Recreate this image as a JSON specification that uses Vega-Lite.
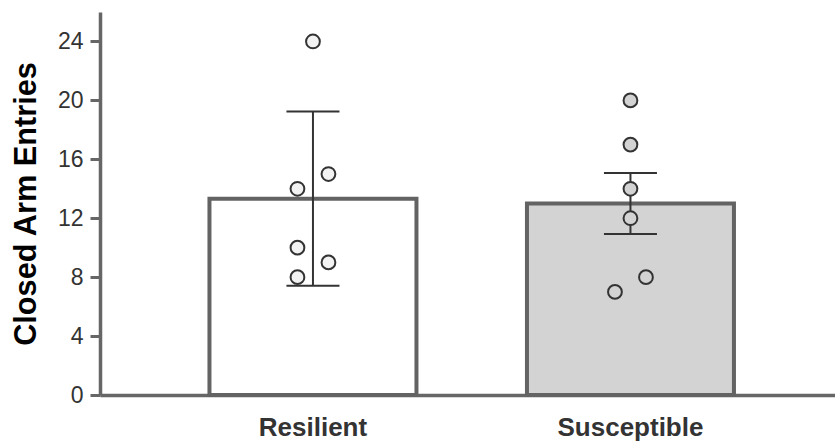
{
  "$schema": "https://vega.github.io/schema/vega-lite/v6.json",
  "width": 735,
  "height": 383,
  "autosize": {"type": "none"},
  "padding": {"left": 100, "top": 12, "right": 0, "bottom": 50},
  "background": "#ffffff",
  "config": {"view": {"stroke": null}, "font": "Liberation Sans"},
  "datasets": {
    "bars": [
      {"group": "Resilient", "mean": 13.33, "lo": 7.41, "hi": 19.25},
      {"group": "Susceptible", "mean": 13.0, "lo": 10.93, "hi": 15.07}
    ],
    "points": [
      {"group": "Resilient", "value": 24, "off": 0},
      {"group": "Resilient", "value": 15, "off": 1},
      {"group": "Resilient", "value": 14, "off": -1},
      {"group": "Resilient", "value": 10, "off": -1},
      {"group": "Resilient", "value": 9, "off": 1},
      {"group": "Resilient", "value": 8, "off": -1},
      {"group": "Susceptible", "value": 20, "off": 0},
      {"group": "Susceptible", "value": 17, "off": 0},
      {"group": "Susceptible", "value": 14, "off": 0},
      {"group": "Susceptible", "value": 12, "off": 0},
      {"group": "Susceptible", "value": 8, "off": 1},
      {"group": "Susceptible", "value": 7, "off": -1}
    ]
  },
  "encoding": {
    "x": {
      "field": "group",
      "type": "nominal",
      "scale": {"domain": ["Resilient", "Susceptible"], "paddingInner": 0.348, "paddingOuter": 0.3315, "align": 0.52},
      "axis": {
        "title": null,
        "labelAngle": 0,
        "ticks": false,
        "labelPadding": 19,
        "labelFontSize": 26,
        "labelFontWeight": "bold",
        "labelColor": "#333333",
        "domainColor": "#666666",
        "domainWidth": 3.5
      }
    }
  },
  "layer": [
    {
      "data": {"name": "bars"},
      "mark": {"type": "bar", "stroke": "#636363", "strokeWidth": 4},
      "encoding": {
        "y": {
          "field": "mean",
          "type": "quantitative",
          "title": "Closed Arm Entries",
          "scale": {"domain": [0, 26], "nice": false},
          "axis": {
            "values": [0, 4, 8, 12, 16, 20, 24],
            "grid": false,
            "domainColor": "#666666",
            "domainWidth": 3.5,
            "tickColor": "#666666",
            "tickWidth": 3,
            "tickSize": 10,
            "labelFontSize": 23,
            "labelColor": "#333333",
            "labelPadding": 7,
            "titleFontSize": 30.7,
            "titleFontWeight": "bold",
            "titleColor": "#000000",
            "titlePadding": 16
          }
        },
        "fill": {
          "field": "group",
          "type": "nominal",
          "scale": {"domain": ["Resilient", "Susceptible"], "range": ["#ffffff", "#d3d3d3"]},
          "legend": null
        }
      }
    },
    {
      "data": {"name": "bars"},
      "mark": {"type": "rule", "stroke": "#333333", "strokeWidth": 2},
      "encoding": {
        "y": {"field": "lo", "type": "quantitative", "title": "Closed Arm Entries"},
        "y2": {"field": "hi"}
      }
    },
    {
      "data": {"name": "bars"},
      "mark": {"type": "tick", "color": "#333333", "thickness": 2, "size": 53, "orient": "horizontal", "opacity": 1},
      "encoding": {
        "y": {"field": "lo", "type": "quantitative", "title": "Closed Arm Entries"}
      }
    },
    {
      "data": {"name": "bars"},
      "mark": {"type": "tick", "color": "#333333", "thickness": 2, "size": 53, "orient": "horizontal", "opacity": 1},
      "encoding": {
        "y": {"field": "hi", "type": "quantitative", "title": "Closed Arm Entries"}
      }
    },
    {
      "data": {"name": "points"},
      "mark": {"type": "point", "shape": "circle", "filled": true, "size": 190, "stroke": "#333333", "strokeWidth": 2, "opacity": 1},
      "encoding": {
        "y": {"field": "value", "type": "quantitative", "title": "Closed Arm Entries"},
        "xOffset": {"field": "off", "type": "quantitative", "scale": {"domain": [-1, 1], "range": [88, 119]}},
        "fill": {
          "field": "group",
          "type": "nominal",
          "scale": {"domain": ["Resilient", "Susceptible"], "range": ["#f2f2f2", "#d3d3d3"]},
          "legend": null
        }
      }
    }
  ],
  "resolve": {"scale": {"fill": "independent", "xOffset": "independent"}}
}
